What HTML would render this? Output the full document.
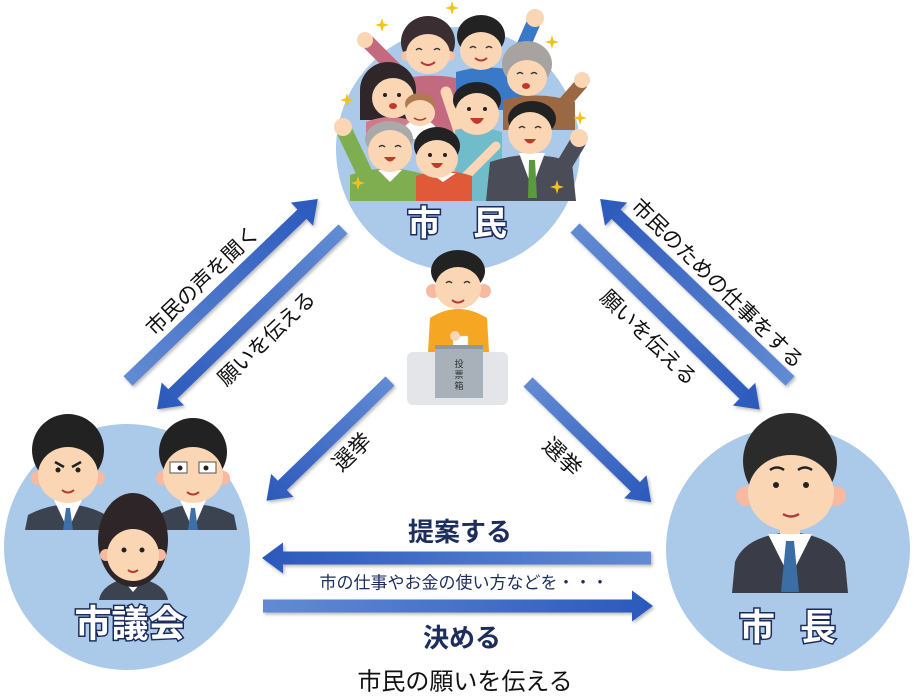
<!DOCTYPE html>
<html><head><meta charset="utf-8">
<style>
html,body{margin:0;padding:0;background:#fff;}
svg{display:block;}
text{font-family:"Liberation Sans","Noto Sans CJK JP",sans-serif;}
</style></head>
<body>
<svg width="917" height="700" viewBox="0 0 917 700" xmlns="http://www.w3.org/2000/svg">
<defs>
  <linearGradient id="ag" x1="0" y1="0" x2="1" y2="0">
    <stop offset="0" stop-color="#628bd3"/>
    <stop offset="1" stop-color="#2b59bc"/>
  </linearGradient>
  <filter id="sh" x="-10%" y="-30%" width="120%" height="160%">
    <feDropShadow dx="1.5" dy="2" stdDeviation="1.5" flood-color="#000" flood-opacity="0.28"/>
  </filter>
  <clipPath id="topclip"><rect x="320" y="0" width="280" height="201"/></clipPath>
  <path id="star" d="M0,-7 L1.6,-1.6 L7,0 L1.6,1.6 L0,7 L-1.6,1.6 L-7,0 L-1.6,-1.6Z" fill="#f3c21a"/>
</defs>

<!-- circles -->
<circle cx="458" cy="149" r="122" fill="#abc9e9"/>
<circle cx="127" cy="547" r="123" fill="#abc9e9"/>
<circle cx="788" cy="549" r="122" fill="#abc9e9"/>

<!-- ============ TOP GROUP (citizens) ============ -->
<g clip-path="url(#topclip)">
  <!-- woman top-left pink -->
  <line x1="398" y1="72" x2="368" y2="42" stroke="#c36a80" stroke-width="14" stroke-linecap="round"/>
  <circle cx="365" cy="40" r="8" fill="#fbd6b5"/>
  <path d="M382,85 Q428,68 472,82 L472,135 L382,135Z" fill="#c36a80"/>
  <ellipse cx="428" cy="42" rx="27" ry="26" fill="#3a2e33"/>
  <circle cx="406" cy="56" r="5" fill="#f5c2a4"/><circle cx="450" cy="56" r="5" fill="#f5c2a4"/>
  <ellipse cx="428" cy="54" rx="22" ry="20" fill="#fbd6b5"/>
  <path d="M416,50 q3,-3 6,0 M434,50 q3,-3 6,0" stroke="#333" stroke-width="1.5" fill="none"/>
  <path d="M421,62 q7,6 14,0" stroke="#b03a3a" stroke-width="2" fill="none"/>

  <!-- boy top blue -->
  <line x1="512" y1="72" x2="533" y2="24" stroke="#3a78c8" stroke-width="14" stroke-linecap="round"/>
  <circle cx="535" cy="18" r="9" fill="#fbd6b5"/>
  <path d="M456,72 Q490,62 528,74 L528,110 L456,110Z" fill="#3a78c8"/>
  <ellipse cx="481" cy="36" rx="24" ry="21" fill="#222"/>
  <ellipse cx="481" cy="51" rx="21" ry="19" fill="#fbd6b5"/>
  <path d="M470,48 q3,-3 6,0 M486,48 q3,-3 6,0" stroke="#333" stroke-width="1.5" fill="none"/>
  <path d="M475,58 q6,5 12,0" stroke="#b03a3a" stroke-width="2" fill="none"/>

  <!-- old woman right brown -->
  <line x1="560" y1="108" x2="581" y2="84" stroke="#9a6842" stroke-width="13" stroke-linecap="round"/>
  <circle cx="582" cy="80" r="8" fill="#fbd6b5"/>
  <path d="M503,100 Q540,90 575,102 L575,130 L503,130Z" fill="#9a6842"/>
  <ellipse cx="527" cy="64" rx="25" ry="23" fill="#a6a3a0"/>
  <ellipse cx="527" cy="78" rx="20" ry="18" fill="#fbd6b5"/>
  <path d="M517,74 q3,-3 6,0 M531,74 q3,-3 6,0" stroke="#333" stroke-width="1.5" fill="none"/>
  <ellipse cx="526" cy="86" rx="4" ry="3" fill="#c0392b"/>

  <!-- woman left -->
  <ellipse cx="388" cy="90" rx="28" ry="28" fill="#2e2629"/>
  <rect x="360" y="90" width="56" height="30" fill="#2e2629"/>
  <path d="M366,122 Q390,112 416,122 L416,140 L366,140Z" fill="#d07a8a"/>
  <ellipse cx="393" cy="98" rx="21" ry="20" fill="#fbd6b5"/>
  <circle cx="385" cy="95" r="2" fill="#222"/><circle cx="399" cy="95" r="2" fill="#222"/>
  <ellipse cx="393" cy="106" rx="4" ry="3" fill="#c0392b"/>

  <!-- baby -->
  <ellipse cx="420" cy="130" rx="16" ry="10" fill="#fff"/>
  <ellipse cx="420" cy="104" rx="15" ry="11" fill="#b07a50"/>
  <ellipse cx="420" cy="113" rx="15" ry="13" fill="#fbd6b5"/>
  <path d="M414,118 q6,4 12,0" stroke="#b03a3a" stroke-width="1.5" fill="none"/>

  <!-- boy center teal -->
  <line x1="462" y1="140" x2="446" y2="92" stroke="#fbd6b5" stroke-width="11" stroke-linecap="round"/>
  <path d="M455,130 Q478,124 502,132 L502,201 L455,201Z" fill="#70bccb"/>
  <ellipse cx="477" cy="100" rx="24" ry="18" fill="#222"/>
  <ellipse cx="477" cy="114" rx="22" ry="21" fill="#fbd6b5"/>
  <circle cx="469" cy="109" r="2" fill="#222"/><circle cx="485" cy="109" r="2" fill="#222"/>
  <path d="M470,118 q7,12 14,0Z" fill="#c0392b"/>

  <!-- man right suit -->
  <line x1="560" y1="172" x2="578" y2="142" stroke="#4a4c58" stroke-width="16" stroke-linecap="round"/>
  <circle cx="579" cy="138" r="9" fill="#fbd6b5"/>
  <path d="M490,162 Q530,148 572,162 L576,201 L486,201Z" fill="#4a4c58"/>
  <polygon points="519,153 545,153 532,188" fill="#fff"/>
  <polygon points="529,160 535,160 537,198 528,198" fill="#5a9a3c"/>
  <ellipse cx="532" cy="119" rx="24" ry="18" fill="#222"/>
  <ellipse cx="530" cy="133" rx="22" ry="21" fill="#fbd6b5"/>
  <path d="M519,128 q3,-3 6,0 M535,128 q3,-3 6,0" stroke="#333" stroke-width="1.5" fill="none"/>
  <path d="M524,139 q6,9 12,0Z" fill="#c0392b"/>

  <!-- old man left green -->
  <line x1="364" y1="172" x2="345" y2="132" stroke="#7fae50" stroke-width="16" stroke-linecap="round"/>
  <circle cx="343" cy="127" r="9" fill="#fbd6b5"/>
  <path d="M350,175 Q388,162 426,175 L426,201 L350,201Z" fill="#7fae50"/>
  <polygon points="378,170 402,170 390,182" fill="#fff"/>
  <ellipse cx="389" cy="139" rx="24" ry="18" fill="#a9a9a9"/>
  <ellipse cx="390" cy="151" rx="22" ry="21" fill="#fbd6b5"/>
  <path d="M379,147 q3,-3 6,0 M395,147 q3,-3 6,0" stroke="#333" stroke-width="1.5" fill="none"/>
  <path d="M384,157 q6,9 12,0Z" fill="#c0392b"/>

  <!-- girl red -->
  <line x1="462" y1="180" x2="496" y2="146" stroke="#fbd6b5" stroke-width="9" stroke-linecap="round"/>
  <path d="M416,176 Q443,166 472,176 L472,201 L416,201Z" fill="#e05a3a"/>
  <polygon points="430,173 456,173 443,182" fill="#fff"/>
  <ellipse cx="437" cy="146" rx="23" ry="19" fill="#222"/>
  <ellipse cx="437" cy="159" rx="21" ry="19" fill="#fbd6b5"/>
  <circle cx="430" cy="155" r="2" fill="#222"/><circle cx="445" cy="155" r="2" fill="#222"/>
  <path d="M431,163 q6,10 12,0Z" fill="#c0392b"/>
</g>
<use href="#star" x="452" y="8"/>
<use href="#star" x="382" y="25"/>
<use href="#star" x="552" y="42"/>
<use href="#star" x="347" y="100"/>
<use href="#star" x="580" y="118"/>
<use href="#star" x="358" y="183"/>
<use href="#star" x="557" y="187"/>

<!-- labels in circles -->
<g font-weight="bold" fill="#fff" stroke="#1c2b5e" stroke-width="3" paint-order="stroke" text-anchor="middle" dominant-baseline="central">
  <text x="424" y="224" font-size="34">市</text>
  <text x="490" y="224" font-size="34">民</text>
  <text x="130" y="624" font-size="37">市議会</text>
  <text x="757" y="627" font-size="36">市</text>
  <text x="818" y="627" font-size="36">長</text>
</g>

<!-- ============ voter boy ============ -->
<path d="M428,352 L430,318 Q458,300 487,318 L489,352Z" fill="#f5a623"/>
<ellipse cx="458" cy="271" rx="27" ry="21" fill="#222"/>
<circle cx="433" cy="291" r="7" fill="#f7b9a0"/><circle cx="484" cy="291" r="7" fill="#f7b9a0"/>
<ellipse cx="458" cy="288" rx="23" ry="21" fill="#fbd6b5"/>
<path d="M446,283 q3,-3 6,0 M464,283 q3,-3 6,0" stroke="#333" stroke-width="1.5" fill="none"/>
<path d="M452,300 q6,5 12,0" stroke="#b03a3a" stroke-width="2" fill="none"/>
<rect x="407" y="352" width="101" height="53" rx="6" fill="#e3e5e8"/>
<rect x="453" y="336" width="15" height="18" fill="#fff" stroke="#ccc" stroke-width="0.5"/>
<rect x="435" y="345" width="48" height="53" fill="#a8b1ba"/>
<rect x="435" y="345" width="48" height="4" fill="#8f98a2"/>
<circle cx="455" cy="336" r="5" fill="#fbd6b5"/>
<g font-size="9" fill="#333" text-anchor="middle">
  <text x="459" y="367">投</text><text x="459" y="378">票</text><text x="459" y="389">箱</text>
</g>

<!-- ============ LEFT council ============ -->
<!-- man left -->
<path d="M25,530 L28,515 Q68,494 106,515 L109,530Z" fill="#3c4350"/>
<polygon points="54,500 82,500 68,530" fill="#fff"/>
<polygon points="66,508 70,508 73,530 63,530" fill="#3d6fa8"/>
<ellipse cx="68" cy="450" rx="36" ry="36" fill="#222"/>
<circle cx="38" cy="478" r="7" fill="#f7b9a0"/><circle cx="98" cy="478" r="7" fill="#f7b9a0"/>
<ellipse cx="68" cy="475" rx="30" ry="28" fill="#fbd6b5"/>
<path d="M55,462 l9,5 M81,462 l-9,5" stroke="#222" stroke-width="2.5"/>
<circle cx="58" cy="470" r="2.5" fill="#222"/><circle cx="78" cy="470" r="2.5" fill="#222"/>
<path d="M62,490 q6,5 12,0" stroke="#b03a3a" stroke-width="2" fill="none"/>
<!-- man right glasses -->
<path d="M155,530 L158,515 Q195,494 234,515 L237,530Z" fill="#3c4350"/>
<polygon points="180,500 206,500 193,530" fill="#fff"/>
<polygon points="191,508 195,508 198,530 188,530" fill="#3d6fa8"/>
<ellipse cx="193" cy="452" rx="34" ry="34" fill="#222"/>
<circle cx="163" cy="478" r="7" fill="#f7b9a0"/><circle cx="223" cy="478" r="7" fill="#f7b9a0"/>
<ellipse cx="193" cy="475" rx="30" ry="28" fill="#fbd6b5"/>
<rect x="170" y="462" width="17" height="11" fill="#fff" stroke="#555" stroke-width="1"/>
<rect x="199" y="462" width="17" height="11" fill="#fff" stroke="#555" stroke-width="1"/>
<circle cx="180" cy="468" r="2.5" fill="#222"/><circle cx="206" cy="468" r="2.5" fill="#222"/>
<path d="M187,492 q6,5 12,0" stroke="#b03a3a" stroke-width="2" fill="none"/>
<!-- woman center -->
<path d="M99,600 Q102,582 133,577 Q165,582 168,600Z" fill="#3c4350"/>
<polygon points="122,579 144,579 133,592" fill="#fff"/>
<ellipse cx="133" cy="540" rx="35" ry="47" fill="#2e2528"/>
<circle cx="106" cy="555" r="6" fill="#f7b9a0"/><circle cx="160" cy="555" r="6" fill="#f7b9a0"/>
<ellipse cx="133" cy="555" rx="26" ry="26" fill="#fbd6b5"/>
<circle cx="124" cy="550" r="2.5" fill="#222"/><circle cx="142" cy="550" r="2.5" fill="#222"/>
<path d="M128,570 q5,4 10,0" stroke="#b03a3a" stroke-width="2" fill="none"/>

<!-- ============ RIGHT mayor ============ -->
<path d="M732,593 L735,562 Q745,536 790,532 Q835,536 845,562 L848,593Z" fill="#3a3d48"/>
<rect x="780" y="522" width="20" height="14" fill="#fbd6b5"/>
<polygon points="768,534 812,534 790,578" fill="#fff"/>
<polygon points="786,541 794,541 799,592 781,592" fill="#3b6ea5"/>
<ellipse cx="790" cy="461" rx="47" ry="48" fill="#2b2b2b"/>
<circle cx="746" cy="496" r="10" fill="#f7b9a0"/><circle cx="836" cy="496" r="10" fill="#f7b9a0"/>
<ellipse cx="791" cy="493" rx="43" ry="38" fill="#fbd6b5"/>
<path d="M770,470 q7,-5 14,0 M798,470 q7,-5 14,0" stroke="#222" stroke-width="2.5" fill="none"/>
<circle cx="776" cy="485" r="3" fill="#222"/><circle cx="806" cy="485" r="3" fill="#222"/>
<path d="M783,514 q8,5 16,0" stroke="#b03a3a" stroke-width="2.5" fill="none"/>

<!-- ============ ARROWS ============ -->
<g fill="url(#ag)" filter="url(#sh)">
  <!-- 市民の声を聞く (up-right) -->
  <g transform="translate(128,381) rotate(-43.8)"><polygon points="0,-6.5 241,-6.5 241,-16 263,0 241,16 241,6.5 0,6.5"/></g>
  <!-- 願いを伝える left (down-left) -->
  <g transform="translate(343,229) rotate(135.9)"><polygon points="0,-6.5 237,-6.5 237,-16 259,0 237,16 237,6.5 0,6.5"/></g>
  <!-- 市民のための仕事をする (up-left) -->
  <g transform="translate(790,381) rotate(-136.2)"><polygon points="0,-6.5 241,-6.5 241,-16 263,0 241,16 241,6.5 0,6.5"/></g>
  <!-- 願いを伝える right (down-right) -->
  <g transform="translate(575,228) rotate(44.5)"><polygon points="0,-6.5 237,-6.5 237,-16 259,0 237,16 237,6.5 0,6.5"/></g>
  <!-- 選挙 left -->
  <g transform="translate(390,381) rotate(135.9)"><polygon points="0,-6.5 150,-6.5 150,-16 172,0 150,16 150,6.5 0,6.5"/></g>
  <!-- 選挙 right -->
  <g transform="translate(528,382) rotate(44.3)"><polygon points="0,-6.5 150,-6.5 150,-16 172,0 150,16 150,6.5 0,6.5"/></g>
  <!-- 提案する (left) -->
  <g transform="translate(651,558) rotate(180)"><polygon points="0,-6.5 368,-6.5 368,-15.5 389,0 368,15.5 368,6.5 0,6.5"/></g>
  <!-- 決める (right) -->
  <g transform="translate(263,606)"><polygon points="0,-6.5 369,-6.5 369,-15.5 390,0 369,15.5 369,6.5 0,6.5"/></g>
</g>

<!-- ============ ARROW LABELS ============ -->
<g fill="#111" text-anchor="middle" dominant-baseline="central" font-size="21">
  <text transform="translate(203,281) rotate(-43.8)">市民の声を聞く</text>
  <text transform="translate(267,339) rotate(-43.8)">願いを伝える</text>
  <text transform="translate(717,284) rotate(44.5)">市民のための仕事をする</text>
  <text transform="translate(648,338) rotate(44.5)">願いを伝える</text>
  <text transform="translate(352,452) rotate(-44)" font-size="22">選挙</text>
  <text transform="translate(562,457) rotate(44)" font-size="22">選挙</text>
</g>

<g text-anchor="middle" dominant-baseline="central">
  <text x="460" y="532" font-size="26" font-weight="bold" fill="#1d2d5e">提案する</text>
  <text x="464" y="583" font-size="17" fill="#1d2d5e">市の仕事やお金の使い方などを・・・</text>
  <text x="462" y="638" font-size="26" font-weight="bold" fill="#1d2d5e">決める</text>
  <text x="465" y="682" font-size="24" fill="#111">市民の願いを伝える</text>
</g>
</svg>
</body></html>
